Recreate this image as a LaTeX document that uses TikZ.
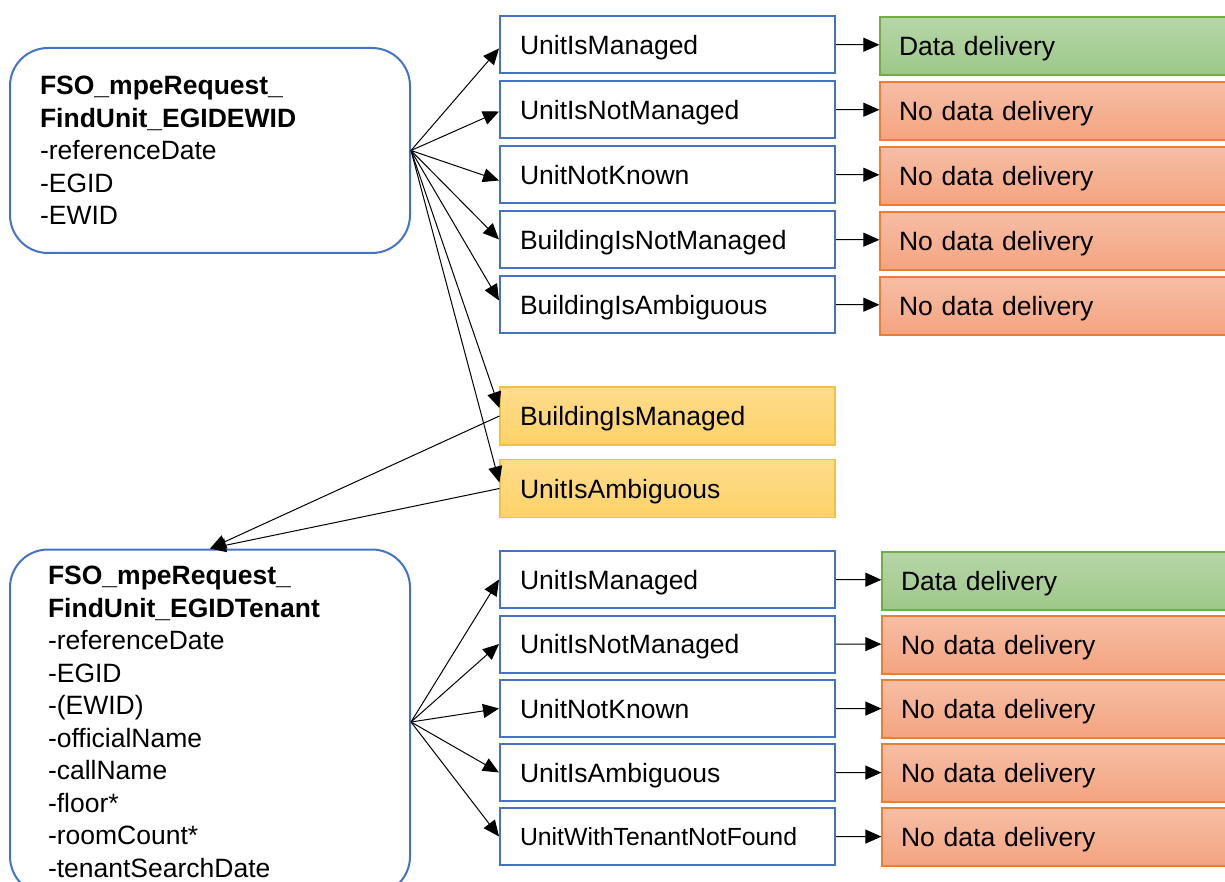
\documentclass[tikz,border=0pt]{standalone}
\usepackage{fontspec}
\setmainfont{Liberation Sans}
\usetikzlibrary{arrows.meta}

\definecolor{reqblue}{HTML}{4472C4}
\definecolor{okline}{HTML}{70AD47}
\definecolor{oktop}{HTML}{B6D6A8}
\definecolor{okbot}{HTML}{9DC888}
\definecolor{failline}{HTML}{ED7D31}
\definecolor{failtop}{HTML}{F6BEA6}
\definecolor{failbot}{HTML}{F4A47F}
\definecolor{pendline}{HTML}{F2C141}
\definecolor{pendtop}{HTML}{FEDC8C}
\definecolor{pendbot}{HTML}{FDD267}

\begin{document}
\begin{tikzpicture}[
			x=0.5pt, y=-0.5pt,
			every node/.style={font=\fontsize{13.25pt}{16.25pt}\selectfont},
			request/.style={rectangle, draw=reqblue, line width=1pt, rounded corners=19pt,
					minimum width=200pt, align=left, inner sep=0pt},
			state/.style={rectangle, draw=reqblue, line width=1pt, minimum width=167.5pt,
					minimum height=28.5pt, text width=147.5pt, align=left, inner sep=0pt,
					text depth=0pt},
			pending/.style={state, draw=pendline, line width=0.6pt, minimum height=29pt,
					top color=pendtop, bottom color=pendbot},
			result/.style={rectangle, line width=0.6pt, minimum width=174pt,
					minimum height=29pt, text width=155pt, align=left, inner sep=0pt,
					text depth=0pt},
			ok/.style={result, draw=okline, top color=oktop, bottom color=okbot},
			fail/.style={result, draw=failline, top color=failtop, bottom color=failbot},
			flow/.style={-{Triangle[length=8pt, width=7pt]}, line width=0.5pt},
		]
		\useasboundingbox (0,0) rectangle (1225,882);
		\clip (0,0) rectangle (1225,882);

		% requests
		\node (req1) [request, minimum height=102.5pt, text width=170pt] at (210, 150.5)
		{\textbf{FSO\_mpeRequest\_}\\\textbf{FindUnit\_EGIDEWID}\\-referenceDate\\-EGID\\-EWID};
		\node (req2) [request, minimum height=172.5pt, text width=162pt] at (210, 722)
		{\textbf{FSO\_mpeRequest\_}\\\textbf{FindUnit\_EGIDTenant}\\-referenceDate\\-EGID\\-(EWID)\\
			-officialName\\-callName\\-floor*\\-roomCount*\\-tenantSearchDate};

		% answers to EGIDEWID
		\node (uim1)  [state] at (667.5, 44.5)  {UnitIsManaged};
		\node (uinm1) [state] at (667.5, 109.5) {UnitIsNotManaged};
		\node (unk1)  [state] at (667.5, 174.5) {UnitNotKnown};
		\node (binm1) [state] at (667.5, 239.5) {BuildingIsNotManaged};
		\node (bia1)  [state] at (667.5, 304.5) {BuildingIsAmbiguous};
		\node (bim1)  [pending] at (667.5, 416)   {BuildingIsManaged};
		\node (uia1)  [pending] at (667.5, 488.5) {UnitIsAmbiguous};

		% answers to EGIDTenant
		\node (uim2)  [state] at (667.5, 579.5) {UnitIsManaged};
		\node (uinm2) [state] at (667.5, 644)   {UnitIsNotManaged};
		\node (unk2)  [state] at (667.5, 708.5) {UnitNotKnown};
		\node (uia2)  [state] at (667.5, 772.5) {UnitIsAmbiguous};
		\node (uwt2)  [state, font=\fontsize{12.4pt}{15pt}\selectfont] at (667.5, 836.5)
		{UnitWithTenantNotFound};

		% deliveries
		\node (d1) [ok]   at (1054, 46)  {Data delivery};
		\node (d2) [fail] at (1054, 111) {No data delivery};
		\node (d3) [fail] at (1054, 176) {No data delivery};
		\node (d4) [fail] at (1054, 241) {No data delivery};
		\node (d5) [fail] at (1054, 306) {No data delivery};
		\node (d6) [ok]   at (1056, 581) {Data delivery};
		\node (d7) [fail] at (1056, 645) {No data delivery};
		\node (d8) [fail] at (1056, 709) {No data delivery};
		\node (d9) [fail] at (1056, 773) {No data delivery};
		\node (d10)[fail] at (1056, 837) {No data delivery};

		% EGIDEWID fan-out
		\draw [flow] (req1.east) -- ([yshift=-2pt]uim1.west);
		\draw [flow] (req1.east) -- ([yshift=-1pt]uinm1.west);
		\draw [flow] (req1.east) -- ([yshift=-3pt]unk1.west);
		\draw [flow] (req1.east) -- (binm1.west);
		\draw [flow] (req1.east) -- ([yshift=2pt]bia1.west);
		\draw [flow] (req1.east) -- ([yshift=4pt]bim1.west);
		\draw [flow] (req1.east) -- ([yshift=3pt]uia1.west);

		% retry with tenant data
		\draw [flow] (bim1.west) -- (req2.north);
		\draw [flow] (uia1.west) -- (req2.north);

		% EGIDTenant fan-out
		\draw [flow] (req2.east) -- (uim2.west);
		\draw [flow] (req2.east) -- (uinm2.west);
		\draw [flow] (req2.east) -- (unk2.west);
		\draw [flow] (req2.east) -- (uia2.west);
		\draw [flow] (req2.east) -- (uwt2.west);

		% answer -> delivery
		\draw [flow] (uim1.east)  -- (d1);
		\draw [flow] (uinm1.east) -- (d2);
		\draw [flow] (unk1.east)  -- (d3);
		\draw [flow] (binm1.east) -- (d4);
		\draw [flow] (bia1.east)  -- (d5);
		\draw [flow] (uim2.east)  -- (d6);
		\draw [flow] (uinm2.east) -- (d7);
		\draw [flow] (unk2.east)  -- (d8);
		\draw [flow] (uia2.east)  -- (d9);
		\draw [flow] (uwt2.east)  -- (d10);
	\end{tikzpicture}
\end{document}
